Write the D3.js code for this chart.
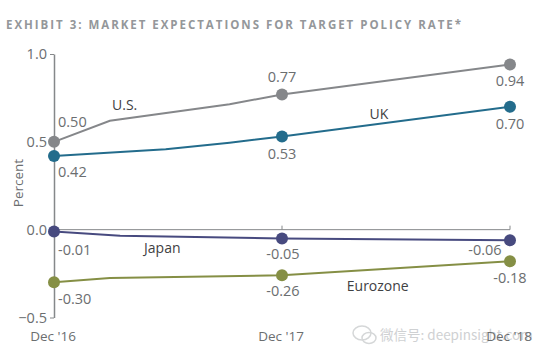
<!DOCTYPE html>
<html lang="en">
<head>
<meta charset="UTF-8">
<title>Exhibit 3</title>
<style>
   body { margin: 0; background: #fff; }
   text { font-family: "Open Sans", "Noto Sans", sans-serif; }
   .title { font-size: 11.5px; font-weight: 700; fill: #94979a; letter-spacing: 1.97px; }
   .value { font-size: 14.5px; fill: #6b6e70; }
   .name { font-size: 14px; fill: #3f4143; }
   .tick text { font-size: 14.5px; fill: #6b6e70; }
   .xlab { font-size: 13.5px; fill: #6b6e70; }
</style>
</head>
<body>
<svg id="chart" width="550" height="351"></svg>
<script src="https://cdnjs.cloudflare.com/ajax/libs/d3/7.8.5/d3.min.js"></script>
<script>
   // x is in years after Dec '16
   var dates = [0, 1, 2];
   var dateLabels = ["Dec '16", "Dec '17", "Dec '18"];
   var yTicks = [1.0, 0.5, 0.0, -0.5];

   var usX = [0, 0.245, 0.77, 1, 2];
   var usY = [0.50, 0.62, 0.714, 0.77, 0.94];
   var ukX = [0, 0.49, 0.77, 1, 2];
   var ukY = [0.42, 0.458, 0.495, 0.53, 0.70];
   var japanX = [0, 0.29, 1, 2];
   var japanY = [-0.01, -0.034, -0.05, -0.06];
   var euroX = [0, 0.245, 1, 2];
   var euroY = [-0.30, -0.275, -0.26, -0.18];

   var usLabels = ["0.50", "0.77", "0.94"];
   var ukLabels = ["0.42", "0.53", "0.70"];
   var japanLabels = ["-0.01", "-0.05", "-0.06"];
   var euroLabels = ["-0.30", "-0.26", "-0.18"];

   var svg = d3.select("#chart");
   var x = d3.scaleLinear().domain([0, 2]).range([54, 510]);
   var y = d3.scaleLinear().domain([-0.5, 1]).range([317.5, 54]);

   svg.append("text").attr("class", "title").attr("x", 6).attr("y", 29)
      .text("EXHIBIT 3: MARKET EXPECTATIONS FOR TARGET POLICY RATE*");

   // y axis
   var yAxis = d3.axisLeft(y).tickValues(yTicks).tickSize(0).tickPadding(7).tickFormat(d3.format(".1f"));
   var yg = svg.append("g").attr("transform", "translate(54,0)").call(yAxis);
   yg.select(".domain").attr("stroke", "#85888a").attr("stroke-width", 1.5);
   yg.selectAll(".tick text").style("font-family", "'Open Sans', sans-serif");
   yg.selectAll(".tick").filter(function (d) { return d === 1 || d === -0.5; })
      .append("line").attr("x1", 0).attr("x2", -4).attr("stroke", "#85888a").attr("stroke-width", 1);

   svg.append("text").attr("class", "value")
      .attr("transform", "translate(23,183) rotate(-90)")
      .attr("text-anchor", "middle").style("font-size", "13.5px").text("Percent");

   // zero line with small ticks up at each date
   var zero = svg.append("g");
   zero.append("line").attr("x1", x(0)).attr("x2", x(2)).attr("y1", y(0)).attr("y2", y(0))
      .attr("stroke", "#85888a").attr("stroke-width", 1);
   zero.selectAll(".zt").data(dates.slice(1)).enter().append("line")
      .attr("x1", function (d) { return x(d); }).attr("x2", function (d) { return x(d); })
      .attr("y1", y(0)).attr("y2", y(0) - 4)
      .attr("stroke", "#85888a").attr("stroke-width", 1);

   // faint watermark, sits under the last date label
   svg.append("text").attr("x", 380).attr("y", 340)
      .attr("fill", "#cfd1d3").style("font-size", "13.5px")
      .style("font-family", "'Noto Sans CJK SC', sans-serif")
      .text("微信号: deepinsight.com");
   var wm = svg.append("g").attr("fill", "none").attr("stroke", "#d5d7d8").attr("stroke-width", 1.5);
   wm.append("ellipse").attr("cx", 362).attr("cy", 333).attr("rx", 9).attr("ry", 7);
   wm.append("ellipse").attr("cx", 369).attr("cy", 338).attr("rx", 7).attr("ry", 5.5);

   svg.selectAll(".xlab").data(dates).enter().append("text")
      .attr("class", "xlab").attr("text-anchor", "middle")
      .attr("x", function (d) { return x(d) - 1; })
      .attr("y", 341)
      .text(function (d, i) { return dateLabels[i]; });

   var series = [
      { xs: usX, ys: usY, color: "#85878a", labels: usLabels },
      { xs: ukX, ys: ukY, color: "#236c8c", labels: ukLabels },
      { xs: japanX, ys: japanY, color: "#474a7f", labels: japanLabels },
      { xs: euroX, ys: euroY, color: "#858f45", labels: euroLabels }
   ];
   var line = d3.line().x(function (d) { return x(d[0]); }).y(function (d) { return y(d[1]); });

   series.forEach(function (s) {
      svg.append("path")
         .attr("d", line(d3.zip(s.xs, s.ys)))
         .attr("fill", "none").attr("stroke", s.color).attr("stroke-width", 2);
      svg.selectAll(null).data(dates).enter().append("circle")
         .attr("cx", function (d) { return x(d); })
         .attr("cy", function (d) { return y(s.ys[s.xs.indexOf(d)]); })
         .attr("r", 6).attr("fill", s.color);
   });

   // value labels: offset per series and date
   var offsets = [
      [[4, -15], [0, -12], [0, 21]],
      [[4, 21], [0, 22], [0, 22]],
      [[4, 24], [1, 21], [-25, 15]],
      [[4, 22], [1, 21], [0, 22]]
   ];
   series.forEach(function (s, k) {
      svg.selectAll(null).data(dates).enter().append("text")
         .attr("class", "value")
         .attr("text-anchor", function (d) { return d === 0 ? "start" : "middle"; })
         .attr("x", function (d, i) { return x(d) + offsets[k][i][0]; })
         .attr("y", function (d, i) { return y(s.ys[s.xs.indexOf(d)]) + offsets[k][i][1]; })
         .text(function (d, i) { return s.labels[i]; });
   });

   var names = [
      { text: "U.S.", x: 0.31, y: 0.68 },
      { text: "UK", x: 1.425, y: 0.63 },
      { text: "Japan", x: 0.475, y: -0.13 },
      { text: "Eurozone", x: 1.42, y: -0.35 }
   ];
   svg.selectAll(".name").data(names).enter().append("text")
      .attr("class", "name").attr("text-anchor", "middle")
      .attr("x", function (d) { return x(d.x); })
      .attr("y", function (d) { return y(d.y); })
      .text(function (d) { return d.text; });
</script>
</body>
</html>
